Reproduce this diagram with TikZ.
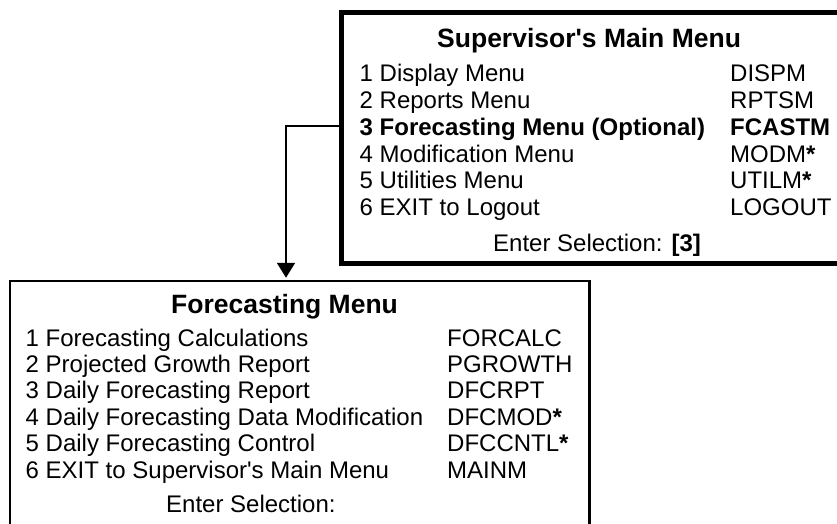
\documentclass[tikz,border=0pt]{standalone}
\usepackage{fontspec}
\setmainfont{Liberation Sans}
\usepackage{tikz}
\usetikzlibrary{arrows.meta,positioning}

\begin{document}
\begin{tikzpicture}[
    x=1pt, y=-1pt,
    menubox/.style={rectangle, draw, inner sep=0pt},
    menutitle/.style={anchor=base west, inner sep=0pt, font=\fontsize{26.5}{26.5}\selectfont\bfseries},
    menuitem/.style={anchor=base west, inner sep=0pt, font=\fontsize{24}{24}\selectfont},
    arrow/.style={-{Triangle[width=18pt,length=15pt]}, line width=2pt, shorten >=2pt}
]
\clip (0,0) rectangle (837,524);
\node[menubox, line width=4.5pt, minimum width=518.5pt, minimum height=251pt] (mainmenu) at (600.75,138) {};
\node[menubox, line width=2.5pt, minimum width=579.5pt, minimum height=279pt] (foremenu) at (299.75,420.5) {};

\node[menutitle] (maintitle) at (437,48) {Supervisor\textquotesingle s Main Menu};
\node[menuitem] (m1) at (359.5,82) {1 Display Menu};
\node[menuitem] (m2) at (359.5,108.7) {2 Reports Menu};
\node[menuitem, font=\fontsize{24}{24}\selectfont\bfseries] (m3) at (359.5,135.4) {3 Forecasting Menu (Optional)};
\node[menuitem] (m4) at (359.5,162.1) {4 Modification Menu};
\node[menuitem] (m5) at (359.5,188.8) {5 Utilities Menu};
\node[menuitem] (m6) at (359.5,215.5) {6 EXIT to Logout};
\node[menuitem] (c1) at (730,82) {DISPM};
\node[menuitem] (c2) at (730,108.7) {RPTSM};
\node[menuitem, font=\fontsize{24}{24}\selectfont\bfseries] (c3) at (730,135.4) {FCASTM};
\node[menuitem] (c4) at (730,162.1) {MODM\textbf{*}};
\node[menuitem] (c5) at (730,188.8) {UTILM\textbf{*}};
\node[menuitem] (c6) at (730,215.5) {LOGOUT};
\node[menuitem] (mainsel) at (493,251) {Enter Selection: \textbf{[3]}};

\node[menutitle] (foretitle) at (171,313) {Forecasting Menu};
\node[menuitem] (f1) at (25.5,346) {1 Forecasting Calculations};
\node[menuitem] (f2) at (25.5,372.4) {2 Projected Growth Report};
\node[menuitem] (f3) at (25.5,398.8) {3 Daily Forecasting Report};
\node[menuitem] (f4) at (25.5,425.2) {4 Daily Forecasting Data Modification};
\node[menuitem] (f5) at (25.5,451.6) {5 Daily Forecasting Control};
\node[menuitem] (f6) at (25.5,478) {6 EXIT to Supervisor\textquotesingle s Main Menu};
\node[menuitem] (d1) at (447,346) {FORCALC};
\node[menuitem] (d2) at (447,372.4) {PGROWTH};
\node[menuitem] (d3) at (447,398.8) {DFCRPT};
\node[menuitem] (d4) at (447,425.2) {DFCMOD\textbf{*}};
\node[menuitem] (d5) at (447,451.6) {DFCCNTL\textbf{*}};
\node[menuitem] (d6) at (447,478) {MAINM};
\node[menuitem] (foresel) at (166,512) {Enter Selection:};

\draw[arrow] ([yshift=12.3pt]mainmenu.west) -| ([xshift=-13.75pt]foremenu.north);
\end{tikzpicture}
\end{document}
